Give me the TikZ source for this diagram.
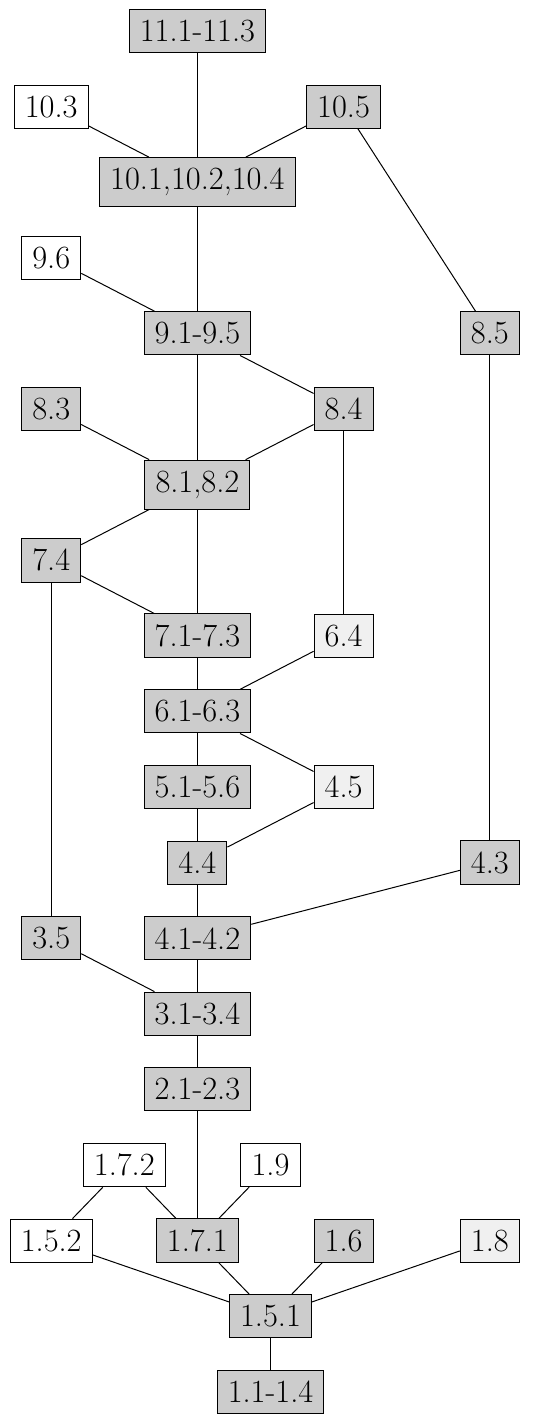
\documentclass[tikz,border=0pt]{standalone}
\begin{document}
\begin{tikzpicture}[x=0.5pt,y=-0.5pt,
  box/.style={draw,line width=0.5pt,inner xsep=5.3pt,inner ysep=5.3pt,font=\fontsize{16.2}{19}\selectfont},
  dk/.style={box,fill=gray!40},
  lt/.style={box,fill=gray!12},
  wh/.style={box,fill=white},
  every path/.style={line width=0.5pt}]
\useasboundingbox (0,0) rectangle (541,1416);
\node[dk] (n11) at (197.4,31) {11.1-11.3};
\node[wh] (n103) at (51.2,106.6) {10.3};
\node[dk] (n105) at (343.6,106.6) {10.5};
\node[dk] (n101) at (197.4,182.2) {10.1,10.2,10.4};
\node[wh] (n96) at (51.2,257.8) {9.6};
\node[dk] (n91) at (197.4,333.4) {9.1-9.5};
\node[dk] (n85) at (489.8,333.4) {8.5};
\node[dk] (n83) at (51.2,409) {8.3};
\node[dk] (n84) at (343.6,409) {8.4};
\node[dk] (n81) at (197.4,484.6) {8.1,8.2};
\node[dk] (n74) at (51.2,560.2) {7.4};
\node[dk] (n71) at (197.4,635.8) {7.1-7.3};
\node[lt] (n64) at (343.6,635.8) {6.4};
\node[dk] (n61) at (197.4,711.4) {6.1-6.3};
\node[dk] (n51) at (197.4,787) {5.1-5.6};
\node[lt] (n45) at (343.6,787) {4.5};
\node[dk] (n44) at (197.4,862.6) {4.4};
\node[dk] (n43) at (489.8,862.6) {4.3};
\node[dk] (n35) at (51.2,938.2) {3.5};
\node[dk] (n41) at (197.4,938.2) {4.1-4.2};
\node[dk] (n31) at (197.4,1013.8) {3.1-3.4};
\node[dk] (n21) at (197.4,1089.4) {2.1-2.3};
\node[wh] (n172) at (124.3,1165) {1.7.2};
\node[wh] (n19) at (270.5,1165) {1.9};
\node[wh] (n152) at (51.2,1240.6) {1.5.2};
\node[dk] (n171) at (197.4,1240.6) {1.7.1};
\node[dk] (n16) at (343.6,1240.6) {1.6};
\node[lt] (n18) at (489.8,1240.6) {1.8};
\node[dk] (n151) at (270.5,1316.2) {1.5.1};
\node[dk] (n11b) at (270.5,1391.8) {1.1-1.4};
\draw (n11) -- (n101);
\draw (n103) -- (n101);
\draw (n105) -- (n101);
\draw (n101) -- (n91);
\draw (n96) -- (n91);
\draw (n105) -- (n85);
\draw (n91) -- (n81);
\draw (n91) -- (n84);
\draw (n83) -- (n81);
\draw (n84) -- (n81);
\draw (n84) -- (n64);
\draw (n81) -- (n74);
\draw (n81) -- (n71);
\draw (n74) -- (n71);
\draw (n74) -- (n35);
\draw (n71) -- (n61);
\draw (n64) -- (n61);
\draw (n61) -- (n51);
\draw (n61) -- (n45);
\draw (n51) -- (n44);
\draw (n45) -- (n44);
\draw (n44) -- (n41);
\draw (n85) -- (n43);
\draw (n43) -- (n41);
\draw (n41) -- (n31);
\draw (n35) -- (n31);
\draw (n31) -- (n21);
\draw (n21) -- (n171);
\draw (n172) -- (n152);
\draw (n172) -- (n171);
\draw (n19) -- (n171);
\draw (n152) -- (n151);
\draw (n171) -- (n151);
\draw (n16) -- (n151);
\draw (n18) -- (n151);
\draw (n151) -- (n11b);
\end{tikzpicture}
\end{document}
